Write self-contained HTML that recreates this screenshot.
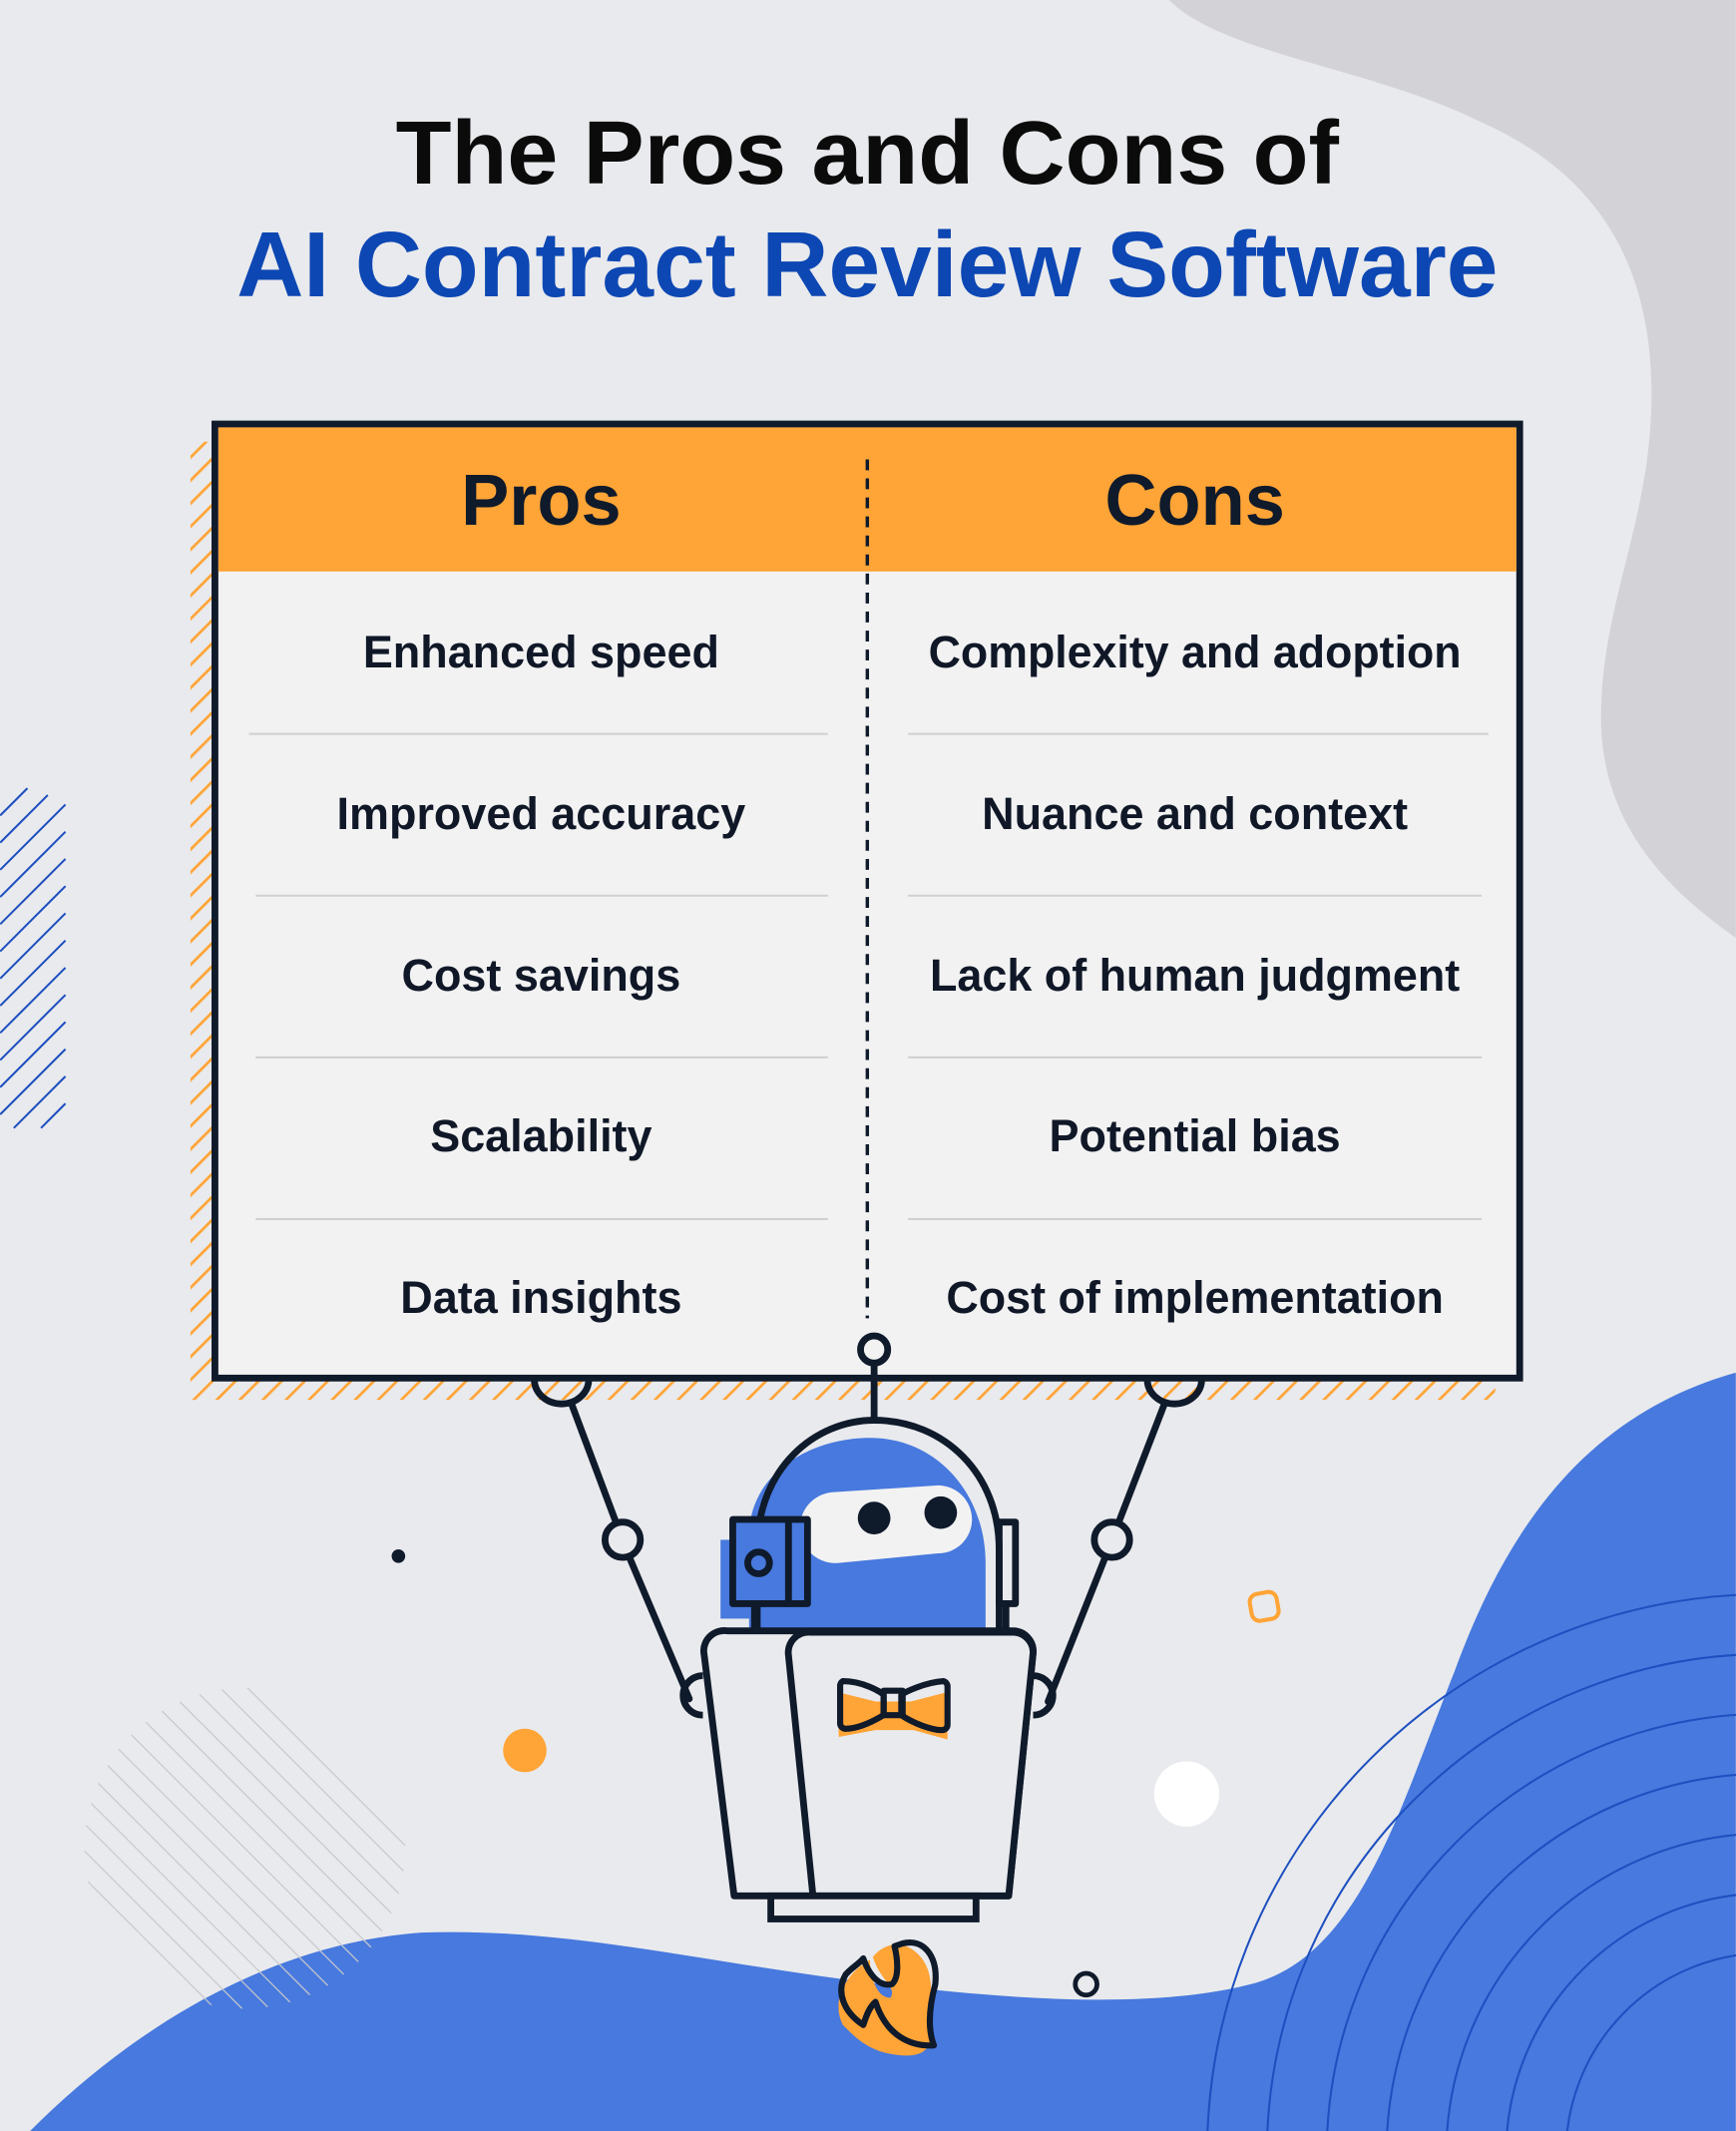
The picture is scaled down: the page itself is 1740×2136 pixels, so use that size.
<!DOCTYPE html>
<html><head><meta charset="utf-8"><style>
html,body{margin:0;padding:0;background:#e9eaed;width:1740px;height:2136px;overflow:hidden}
svg{display:block}
text{font-family:"Liberation Sans",Arial,sans-serif;font-weight:bold}
</style></head><body>
<svg width="1740" height="2136" viewBox="0 0 1277 1568" xmlns="http://www.w3.org/2000/svg">
<defs>
<pattern id="oh" width="12" height="12" patternUnits="userSpaceOnUse" patternTransform="rotate(45)">
<rect width="12" height="12" fill="#e9eaed"/><rect x="0" y="0" width="2" height="12" fill="#ffa436"/></pattern>
<clipPath id="gc"><circle cx="180" cy="1360" r="118"/></clipPath>
</defs>
<rect width="1277" height="1568" fill="#e9eaed"/>
<path d="M860,0 C900,40 1010,50 1090,90 C1180,130 1215,200 1215,290 C1215,380 1180,440 1178,520 C1175,600 1220,650 1277,690 L1277,0 Z" fill="#d3d2d6"/>
<path d="M22,1568 C100,1490 200,1430 310,1422 C420,1418 520,1445 650,1460 C750,1472 850,1478 920,1460 C1000,1440 1030,1330 1070,1230 C1110,1120 1170,1040 1277,1010 L1277,1568 Z" fill="#4779de"/>
<g fill="none" stroke="#1d4fc0" stroke-width="1.5">
<circle cx="1300" cy="1585" r="412"/><circle cx="1300" cy="1585" r="368"/><circle cx="1300" cy="1585" r="324"/><circle cx="1300" cy="1585" r="280"/><circle cx="1300" cy="1585" r="236"/><circle cx="1300" cy="1585" r="192"/><circle cx="1300" cy="1585" r="148"/>
</g>
<g stroke="#1d4fc0" stroke-width="1.5">
<line x1="0" y1="600" x2="20" y2="580"/><line x1="0" y1="620" x2="35" y2="585"/><line x1="0" y1="640" x2="48" y2="592"/><line x1="0" y1="660" x2="48" y2="612"/><line x1="0" y1="680" x2="48" y2="632"/><line x1="0" y1="700" x2="48" y2="652"/><line x1="0" y1="720" x2="48" y2="672"/><line x1="0" y1="740" x2="48" y2="692"/><line x1="0" y1="760" x2="48" y2="712"/><line x1="0" y1="780" x2="48" y2="732"/><line x1="0" y1="800" x2="48" y2="752"/><line x1="0" y1="820" x2="48" y2="772"/><line x1="10" y1="830" x2="48" y2="792"/><line x1="30" y1="830" x2="48" y2="812"/>
</g>
<g clip-path="url(#gc)" stroke="#c9c9cd" stroke-width="1" opacity="0.9">
<line x1="20" y1="1200" x2="340" y2="1520"/><line x1="40" y1="1200" x2="360" y2="1520"/><line x1="0" y1="1200" x2="320" y2="1520"/><line x1="-20" y1="1200" x2="300" y2="1520"/><line x1="-40" y1="1200" x2="280" y2="1520"/><line x1="-60" y1="1200" x2="260" y2="1520"/><line x1="-80" y1="1200" x2="240" y2="1520"/><line x1="-100" y1="1200" x2="220" y2="1520"/><line x1="-120" y1="1200" x2="200" y2="1520"/><line x1="60" y1="1200" x2="380" y2="1520"/><line x1="80" y1="1200" x2="400" y2="1520"/><line x1="100" y1="1200" x2="420" y2="1520"/><line x1="120" y1="1200" x2="440" y2="1520"/><line x1="140" y1="1200" x2="460" y2="1520"/>
</g>
<text x="638" y="135" font-size="66" text-anchor="middle" fill="#0b0b0b" textLength="694" lengthAdjust="spacingAndGlyphs">The Pros and Cons of</text>
<text x="638" y="218" font-size="68" text-anchor="middle" fill="#0d47b3" textLength="928" lengthAdjust="spacingAndGlyphs">AI Contract Review Software</text>
<rect x="140" y="325" width="20" height="705" fill="url(#oh)"/>
<rect x="140" y="1014" width="960" height="16" fill="url(#oh)"/>
<rect x="158" y="312" width="960" height="702" fill="#f2f2f2" stroke="#0f1a2b" stroke-width="5"/>
<rect x="160.5" y="314.5" width="955" height="106" fill="#ffa436"/>
<line x1="638" y1="338" x2="638" y2="970" stroke="#0f1a2b" stroke-width="2.5" stroke-dasharray="8,6"/>
<g stroke="#d0d0d0" stroke-width="1.5">
<line x1="183" y1="540" x2="609" y2="540"/><line x1="668" y1="540" x2="1095" y2="540"/>
<line x1="188" y1="659" x2="609" y2="659"/><line x1="668" y1="659" x2="1090" y2="659"/>
<line x1="188" y1="778" x2="609" y2="778"/><line x1="668" y1="778" x2="1090" y2="778"/>
<line x1="188" y1="897" x2="609" y2="897"/><line x1="668" y1="897" x2="1090" y2="897"/>
</g>
<text x="398" y="386" font-size="53" text-anchor="middle" fill="#0f1a2b">Pros</text>
<text x="879" y="386" font-size="53" text-anchor="middle" fill="#0f1a2b">Cons</text>
<g font-size="33" text-anchor="middle" fill="#101828">
<text x="398" y="491">Enhanced speed</text>
<text x="398" y="610">Improved accuracy</text>
<text x="398" y="729">Cost savings</text>
<text x="398" y="847">Scalability</text>
<text x="398" y="966">Data insights</text>
<text x="879" y="491" textLength="392" lengthAdjust="spacingAndGlyphs">Complexity and adoption</text>
<text x="879" y="610">Nuance and context</text>
<text x="879" y="729" textLength="390" lengthAdjust="spacingAndGlyphs">Lack of human judgment</text>
<text x="879" y="847">Potential bias</text>
<text x="879" y="966" textLength="366" lengthAdjust="spacingAndGlyphs">Cost of implementation</text>
</g>
<circle cx="293" cy="1145" r="5" fill="#0f1a2b"/>
<circle cx="386" cy="1288" r="16" fill="#ffa436"/>
<circle cx="873" cy="1320" r="24" fill="#fff"/>
<rect x="920" y="1172" width="20" height="20" rx="6" fill="none" stroke="#ffa436" stroke-width="3" transform="rotate(-10 930 1182)"/>
<circle cx="799" cy="1460" r="8" fill="none" stroke="#0f1a2b" stroke-width="3.5"/>
<g fill="none" stroke="#0f1a2b" stroke-width="5" stroke-linecap="round" stroke-linejoin="round">
<path d="M393,1015 A20,18 0 0 0 433,1015" />
<path d="M844,1015 A20,18 0 0 0 884,1015"/>
<line x1="420" y1="1032" x2="453" y2="1120"/>
<circle cx="458" cy="1133" r="13"/>
<line x1="463" y1="1146" x2="507" y2="1250"/>
<line x1="857" y1="1032" x2="823" y2="1120"/>
<circle cx="818" cy="1133" r="13"/>
<line x1="813" y1="1146" x2="771" y2="1252"/>
<circle cx="643" cy="993" r="10"/>
<line x1="643" y1="1003" x2="643" y2="1045"/>
</g>
<path d="M551,1200 V1130 C551,1085 595,1058 640,1058 C690,1058 725,1100 725,1150 V1212 H548 Z" fill="#4779de"/>
<rect x="530" y="1133" width="55" height="58" fill="#4779de"/>
<path d="M557,1200 V1140 C557,1080 600,1045 643,1045 C695,1045 735,1085 735,1140 V1200" fill="none" stroke="#0f1a2b" stroke-width="5"/>
<path d="M612,1098 L690,1093 A25,25 0 0 1 690,1143 L617,1150 A26,26 0 0 1 612,1098 Z" fill="#f2f2f2"/>
<circle cx="643" cy="1117" r="12" fill="#0f1a2b"/>
<circle cx="692" cy="1113" r="12" fill="#0f1a2b"/>
<rect x="539" y="1118" width="55" height="62" fill="#4779de"/>
<g fill="none" stroke="#0f1a2b" stroke-width="5" stroke-linejoin="round">
<rect x="539" y="1118" width="55" height="62"/>
<line x1="580" y1="1118" x2="580" y2="1180"/>
<circle cx="558" cy="1150" r="8"/>
<line x1="555" y1="1180" x2="555" y2="1202"/>
<rect x="735" y="1120" width="12" height="60"/>
<line x1="740" y1="1180" x2="740" y2="1202"/>
<path d="M517,1233 A14,14 0 0 0 517,1262"/>
<path d="M760,1233 A14,14 0 0 1 760,1262"/>
</g>
<path d="M535,1200 H745 A15,15 0 0 1 760,1216 L742,1395 H540 L518,1218 A15,15 0 0 1 535,1200 Z" fill="#e9eaed" stroke="#0f1a2b" stroke-width="5" stroke-linejoin="round"/>
<path d="M596,1201 H745 A15,15 0 0 1 760,1216 L742,1395 H598 L580,1218 A15,15 0 0 1 596,1201 Z" fill="#e9eaed" stroke="#0f1a2b" stroke-width="5" stroke-linejoin="round"/>
<rect x="567" y="1395" width="151" height="17" fill="#e9eaed" stroke="#0f1a2b" stroke-width="5"/>
<path d="M616,1245 L644,1252 L670,1252 L697,1245 L697,1280 L672,1273 L644,1273 L617,1278 Z" fill="#ffa436"/>
<g fill="none" stroke="#0f1a2b" stroke-width="4.5" stroke-linejoin="round">
<path d="M620,1237 C635,1237 648,1245 650,1247 L650,1262 C640,1268 630,1272 622,1272 A4,4 0 0 1 618,1268 V1241 A4,4 0 0 1 620,1237 Z"/>
<path d="M694,1237 C680,1238 666,1245 663,1247 L663,1262 C672,1268 685,1273 693,1273 A4,4 0 0 0 697,1269 V1241 A4,4 0 0 0 694,1237 Z"/>
<rect x="650" y="1244" width="14" height="18"/>
</g>
<path d="M640,1442 C625,1450 610,1470 620,1490 C630,1500 640,1510 660,1512 C675,1514 686,1510 685,1495 C682,1475 692,1450 672,1435 C662,1428 650,1430 642,1440 C648,1458 660,1462 655,1470 C645,1470 640,1455 640,1442 Z" fill="#ffa436"/>
<path d="M664,1430 C680,1426 690,1440 688,1460 C684,1475 682,1492 687,1505 C670,1506 652,1498 644,1473 C638,1478 636,1488 635,1490 C620,1480 615,1465 622,1453 C626,1448 632,1445 635,1441 C640,1455 648,1462 656,1460 C662,1455 660,1440 658,1432 Z" fill="none" stroke="#0f1a2b" stroke-width="4.5" stroke-linejoin="round"/>
</svg>
</body></html>
